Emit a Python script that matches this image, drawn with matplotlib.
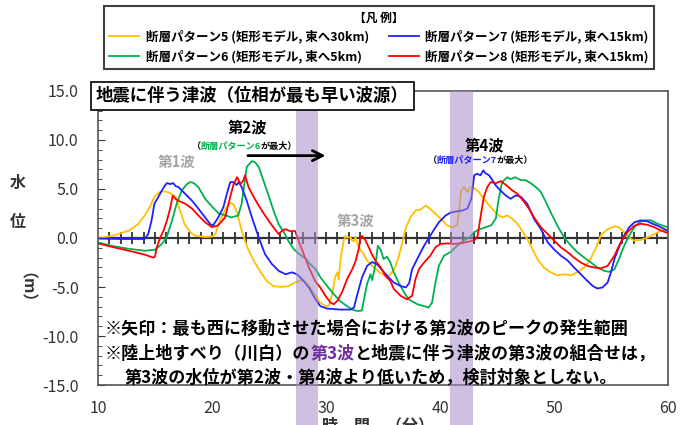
import matplotlib
matplotlib.use("Agg")
import matplotlib.pyplot as plt
import numpy as np
from matplotlib import transforms
from matplotlib.patches import Rectangle
from matplotlib.ticker import FormatStrFormatter, MultipleLocator

plt.rcParams["font.family"] = ["Noto Sans CJK JP", "DejaVu Sans"]
plt.rcParams["axes.unicode_minus"] = False

# 断層パターン5 (yellow)
t5 = [10.0, 11.2, 12.7, 13.5, 14.1, 14.6, 15.0, 15.45, 15.9, 16.3, 16.8, 17.2, 17.6, 18.1, 18.5, 19.4, 20.0, 20.3,
      20.6, 21.2, 21.6, 21.9, 22.2, 22.6, 23.1, 23.65, 24.2, 24.8, 25.4, 26.1, 26.7, 27.3, 27.75, 28.2, 28.6, 29.1,
      29.5, 29.95, 30.25, 30.55, 30.8, 31.0, 31.1, 31.3, 31.55, 31.7, 31.85, 32.15, 32.3, 32.45, 32.6, 32.75, 33.0,
      33.3, 33.6, 34.2, 34.8, 35.2, 35.5, 35.8, 36.1, 36.4, 36.7, 37.0, 37.4, 37.85, 38.3, 38.75, 39.0, 39.3, 39.75,
      40.2, 40.65, 41.1, 41.5, 41.65, 41.85, 42.1, 42.4, 42.7, 43.0, 43.4, 43.85, 44.45, 45.0, 45.45, 45.9, 46.35,
      46.8, 47.2, 47.65, 48.1, 48.55, 49.1, 49.7, 50.3, 50.9, 51.5, 52.05, 52.65, 53.2, 53.65, 54.1, 54.7, 55.3,
      55.7, 56.15, 56.6, 57.0, 57.6, 58.2, 58.8, 59.4, 60.0]
v5 = [0.0, 0.2, 0.75, 1.4, 2.3, 3.3, 4.3, 4.7, 4.75, 4.6, 4.2, 2.8, 1.4, 0.6, 0.25, 0.1, 0.15, 0.4,
      1.5, 3.0, 3.6, 3.4, 2.6, 0.75, -0.95, -2.3, -3.35, -4.4, -4.9, -5.0, -4.9, -4.55, -4.3, -4.45, -5.05, -5.9,
      -6.6, -6.95, -6.9, -5.7, -4.0, -3.5, -4.2, -2.0, -0.3, 0.2, 0.05, 0.05, -0.3, -0.3, 0.1, -0.6, -1.2,
      -1.6, -2.3, -3.0, -3.6, -3.8, -3.85, -3.5, -2.9, -1.8, -0.45, 1.0, 2.1, 2.8, 2.9, 3.3, 3.1, 2.8, 2.3,
      1.8, 1.25, 1.1, 1.3, 2.5, 4.8, 5.2, 4.7, 5.2, 5.1, 4.7, 4.0, 3.15, 2.45, 2.1, 2.3, 1.95,
      1.45, 0.75, -0.1, -1.1, -2.15, -3.0, -3.5, -3.8, -3.7, -3.8, -3.5, -3.0, -2.15, -1.1, 0.25, 0.9, 1.2,
      1.1, 0.6, 0.05, -0.25, -0.2, 0.05, 0.4, 0.75, 0.9]

# 断層パターン6 (green)
t6 = [10.0, 11.2, 12.7, 14.1, 15.0, 15.6, 16.0, 16.5, 16.9, 17.35, 17.8, 18.1, 18.4, 18.8, 19.4, 20.0, 20.6, 21.2,
      21.7, 22.3, 22.6, 22.8, 23.05, 23.5, 23.8, 24.1, 24.5, 25.0, 25.4, 25.85, 26.3, 26.7, 27.15, 27.6, 28.2, 28.6,
      29.1, 29.5, 30.1, 30.7, 31.25, 31.85, 32.3, 32.75, 33.15, 33.3, 33.6, 33.9, 34.05, 34.35, 34.55, 34.8, 35.05,
      35.35, 35.65, 35.95, 36.4, 36.85, 37.25, 38.0, 38.6, 39.0, 39.3, 39.6, 39.9, 40.35, 40.9, 41.5, 42.1, 42.6,
      43.0, 43.5, 44.0, 44.5, 44.9, 45.15, 45.45, 45.9, 46.2, 46.6, 47.1, 47.5, 47.95, 48.4, 48.85, 49.3, 49.7,
      50.3, 50.9, 51.5, 52.05, 52.65, 53.25, 53.8, 54.4, 54.85, 55.3, 55.7, 56.15, 56.6, 57.05, 57.5, 57.9, 58.5,
      59.1, 59.7, 60.0]
v6 = [-0.45, -0.8, -1.1, -1.3, -1.2, -0.6, 0.0, 1.8, 3.5, 4.85, 5.5, 5.7, 5.6, 5.2, 4.0, 3.2, 2.5, 2.3,
      2.1, 2.3, 3.5, 5.2, 7.25, 7.85, 7.7, 7.25, 5.9, 4.2, 2.8, 1.4, 0.6, -0.3, -1.1, -1.6, -2.1, -2.65,
      -3.2, -4.0, -4.9, -5.75, -6.45, -6.95, -7.3, -7.45, -7.4, -6.45, -4.7, -3.7, -4.3, -2.65, -0.8, -1.2, -2.15,
      -1.9, -2.5, -3.5, -4.6, -5.55, -6.25, -6.75, -6.95, -7.1, -6.6, -4.55, -2.85, -1.8, -1.45, -0.8, -0.25, 0.1,
      0.6, 0.9, 1.1, 1.3, 2.0, 4.0, 5.7, 6.2, 6.0, 6.2, 5.9, 5.9, 5.6, 5.2, 4.7, 3.65, 2.65,
      1.25, 0.05, -0.8, -1.45, -2.0, -2.5, -3.0, -3.35, -3.45, -3.2, -2.15, -0.8, 0.25, 1.1, 1.6, 1.8, 1.8,
      1.45, 1.2, 1.1]

# 断層パターン7 (blue)
t7 = [10.0, 12.0, 14.1, 14.4, 14.7, 14.95, 15.3, 15.6, 15.9, 16.05, 16.35, 16.6, 16.8, 17.05, 17.65, 18.25, 18.8,
      19.4, 19.85, 20.1, 20.55, 21.0, 21.3, 21.6, 21.9, 22.15, 22.35, 22.6, 23.05, 23.5, 24.1, 24.65, 25.25, 25.85,
      26.45, 27.0, 27.45, 27.9, 28.5, 29.05, 29.5, 30.1, 31.25, 32.15, 32.45, 32.75, 33.15, 33.6, 34.05, 34.5,
      34.95, 35.4, 35.95, 36.55, 37.0, 37.3, 37.55, 37.85, 38.15, 38.6, 39.05, 39.5, 39.9, 40.5, 40.95, 41.4,
      41.95, 42.4, 42.75, 43.0, 43.25, 43.55, 43.8, 44.0, 44.3, 44.6, 44.9, 45.3, 45.75, 46.2, 46.65, 47.1,
      47.65, 48.25, 48.85, 49.45, 50.0, 50.6, 51.2, 51.75, 52.35, 52.95, 53.4, 53.8, 54.25, 54.7, 55.0, 55.3,
      55.7, 56.15, 56.6, 57.05, 57.6, 58.2, 58.65, 59.1, 59.7, 60.0]
v7 = [-0.05, -0.1, -0.1, 0.4, 1.8, 3.5, 4.2, 4.85, 5.4, 5.6, 5.5, 5.6, 5.3, 5.2, 4.5, 3.8, 3.0,
      2.1, 1.4, 1.3, 2.1, 3.15, 4.5, 5.7, 5.7, 5.4, 5.7, 5.2, 3.8, 2.1, 0.05, -1.65, -2.65, -3.35,
      -3.7, -3.5, -3.7, -4.2, -5.05, -6.2, -6.95, -7.2, -7.3, -7.3, -7.1, -5.75, -4.05, -2.85, -2.45, -2.7,
      -3.3, -3.9, -4.55, -4.9, -5.05, -4.6, -3.2, -2.5, -1.8, -0.8, 0.05, 0.9, 1.6, 2.3, 2.6, 2.7,
      2.8, 3.0, 4.0, 6.4, 6.55, 6.4, 6.9, 6.6, 6.4, 5.9, 5.35, 4.85, 4.35, 4.0, 4.35, 4.2,
      3.5, 1.95, 0.9, -0.45, -1.15, -1.8, -2.3, -3.0, -3.7, -4.4, -4.9, -5.15, -5.05, -4.55, -3.5, -2.15,
      -0.95, 0.25, 1.1, 1.6, 1.8, 1.7, 1.45, 1.25, 0.9, 0.7]

# 断層パターン8 (red)
t8 = [10.0, 11.2, 12.7, 14.1, 14.85, 15.0, 15.15, 15.45, 15.75, 16.05, 16.35, 16.55, 16.8, 17.05, 17.65, 18.25,
      18.8, 19.4, 20.0, 20.55, 21.15, 21.6, 21.9, 22.2, 22.5, 22.75, 22.9, 23.2, 23.65, 24.1, 24.65, 25.25, 25.85,
      26.15, 26.45, 26.85, 27.3, 27.6, 28.05, 28.5, 29.05, 29.5, 29.95, 30.4, 30.7, 31.0, 31.4, 31.85, 32.3, 32.6,
      32.9, 33.0, 33.15, 33.45, 33.75, 34.05, 34.35, 34.8, 35.2, 35.65, 35.95, 36.55, 37.1, 37.55, 37.85, 38.15,
      38.6, 39.15, 39.6, 40.05, 40.65, 41.2, 41.8, 42.4, 43.0, 43.3, 43.6, 43.85, 44.15, 44.45, 44.9, 45.35,
      45.9, 46.35, 46.8, 47.4, 47.8, 48.25, 48.85, 49.45, 50.0, 50.6, 51.2, 51.75, 52.35, 52.95, 53.5, 54.1,
      54.7, 55.3, 55.85, 56.45, 57.05, 57.6, 58.2, 58.8, 59.4, 60.0]
v8 = [-0.55, -0.9, -1.3, -1.7, -2.0, -1.9, -0.95, 0.0, 0.75, 1.8, 3.1, 4.3, 4.0, 3.8, 3.5, 3.0,
      2.3, 1.6, 1.1, 1.3, 2.1, 4.2, 5.5, 6.2, 5.5, 5.9, 6.4, 5.2, 4.2, 3.3, 2.3, 1.3, 0.4,
      0.75, 0.9, 0.7, 0.7, -0.3, -1.65, -3.0, -4.4, -5.05, -5.9, -6.6, -6.75, -6.4, -5.55, -4.2, -3.2, -2.35,
      -0.95, 0.05, 0.2, -0.2, -0.95, -1.7, -2.35, -3.0, -3.85, -4.4, -5.2, -5.9, -6.25, -5.9, -4.2, -3.2,
      -2.5, -1.8, -0.95, -0.6, -0.55, -0.6, -0.55, -0.4, -0.25, 0.2, 2.45, 4.2, 5.2, 5.7, 5.6, 5.8,
      5.3, 4.85, 4.5, 3.65, 3.0, 2.1, 1.1, 0.4, -0.25, -0.95, -1.45, -2.0, -2.5, -2.85, -3.0, -3.1,
      -2.85, -1.8, -0.45, 0.6, 1.25, 1.45, 1.35, 1.1, 0.75, 0.5]

labels = ["断層パターン5 (矩形モデル, 東へ30km)", "断層パターン6 (矩形モデル, 東へ5km)",
          "断層パターン7 (矩形モデル, 東へ15km)", "断層パターン8 (矩形モデル, 東へ15km)"]
colors = ["#FFC000", "#00B050", "#1F1FFF", "#FF0000"]
times = [t5, t6, t7, t8]
values = [v5, v6, v7, v8]

bands = [(27.4, 29.3), (40.9, 42.9)]
x_ticks = [10, 20, 30, 40, 50, 60]
y_ticks = [-15, -10, -5, 0, 5, 10, 15]

fig = plt.figure(figsize=(6.83, 4.25), dpi=100)
ax = fig.add_axes([0.1435, 0.094, 0.8345, 0.692])

lines = []
for t, v, c, lab in zip(times, values, colors, labels):
    (ln,) = ax.plot(t, v, color=c, lw=1.3, label=lab, zorder=2)
    lines.append(ln)

ax.set_xlim(10, 60)
ax.set_ylim(-15, 15)
ax.set_xticks(x_ticks)
ax.set_yticks(y_ticks)
ax.yaxis.set_major_formatter(FormatStrFormatter("%.1f"))
ax.yaxis.set_minor_locator(MultipleLocator(1))
ax.tick_params(axis="x", length=0, pad=11, labelsize=11.5, colors="#333333")
ax.tick_params(axis="y", which="both", direction="in", pad=14, labelsize=11.5, colors="#333333")
ax.tick_params(axis="y", which="major", length=5)
ax.tick_params(axis="y", which="minor", length=3)
for sp in ax.spines.values():
    sp.set_color("#555555")
    sp.set_linewidth(1.2)

# zero line with minute ticks
ax.axhline(0, color="#333333", lw=1.6, zorder=1)
minute_ticks = np.arange(11, 60)
ax.plot(minute_ticks, np.zeros(len(minute_ticks)), ls="none", marker="|", ms=8, mew=1.3,
        color="#333333", zorder=1)

# purple bands reaching below the axes
trans = transforms.blended_transform_factory(ax.transData, ax.transAxes)
for x0, x1 in bands:
    ax.add_patch(Rectangle((x0, -0.14), x1 - x0, 1.14, transform=trans, clip_on=False,
                           facecolor="#A88BC7", alpha=0.55, lw=0, zorder=3))


def rainbow(x, y, parts, **kw):
    t = ax.text(x, y, parts[0][0], color=parts[0][1], va="bottom", ha="left", zorder=6, **kw)
    for s, c in parts[1:]:
        t = ax.annotate(s, xy=(1, 0), xycoords=t, va="bottom", ha="left", color=c,
                        annotation_clip=False, zorder=6, **kw)


bold = dict(fontweight="bold")
ax.text(16.9, 7.8, "第1波", color="#A6A6A6", fontsize=10.5, ha="center", va="center", **bold)
ax.text(23.1, 11.3, "第2波", color="black", fontsize=11, ha="center", va="center", **bold)
rainbow(18.2, 8.85, [("（", "black"), ("断層パターン6", "#00B050"), ("が最大）", "black")],
        fontsize=6.6, **bold)
ax.annotate("", xy=(30.2, 8.4), xytext=(22.9, 8.4),
            arrowprops=dict(arrowstyle="->", lw=2, color="black", mutation_scale=18))
ax.text(32.6, 1.75, "第3波", color="#A6A6A6", fontsize=10.5, ha="center", va="center", **bold)
ax.text(43.9, 9.4, "第4波", color="black", fontsize=11, ha="center", va="center", **bold)
rainbow(38.9, 7.45, [("（", "black"), ("断層パターン7", "#1F1FFF"), ("が最大）", "black")],
        fontsize=6.6, **bold)

rainbow(10.6, -10.15, [("※矢印：最も西に移動させた場合における第2波のピークの発生範囲", "black")],
        fontsize=12.3, **bold)
rainbow(10.6, -12.7, [("※陸上地すべり（川白）の", "black"), ("第3波", "#7030A0"),
                      ("と地震に伴う津波の第3波の組合せは，", "black")], fontsize=12.3, **bold)
rainbow(12.3, -15.15, [("第3波の水位が第2波・第4波より低いため，検討対象としない。", "black")],
        fontsize=12.3, **bold)

# title box
fig.text(96 / 683, 1 - 96 / 425, "地震に伴う津波（位相が最も早い波源）", fontsize=12.5, va="center", ha="left",
         bbox=dict(boxstyle="square,pad=0.3", fc="white", ec="black", lw=1.2), zorder=10, **bold)

# y label
fig.text(18 / 683, 1 - 183 / 425, "水", fontsize=11.5, ha="center", va="center", color="#333333", **bold)
fig.text(18 / 683, 1 - 222 / 425, "位", fontsize=11.5, ha="center", va="center", color="#333333", **bold)
fig.text(18 / 683, 1 - 296 / 425, "（m）", fontsize=11.5, ha="center", va="center", rotation=-90,
         color="#333333", **bold)
# x label (partly cut off at the bottom, as in the source figure)
fig.text(378 / 683, 1 - 417 / 425, "時　間　（分）", fontsize=11.5, ha="center", va="top", color="#333333", **bold)

leg = fig.legend(lines, labels, ncol=2, loc="upper left", mode="expand",
                 bbox_to_anchor=(100 / 683, 1 - 70 / 425, 558 / 683, 68 / 425),
                 title="【凡 例】", title_fontproperties=dict(weight="bold", size=8.5),
                 prop=dict(weight="bold", size=9), handlelength=2.4, handletextpad=0.5,
                 labelspacing=0.45, borderpad=0.45, borderaxespad=0.3,
                 fancybox=False, framealpha=1, edgecolor="#404040")
leg.get_frame().set_linewidth(1.5)

fig.savefig("out.png", dpi=100)
